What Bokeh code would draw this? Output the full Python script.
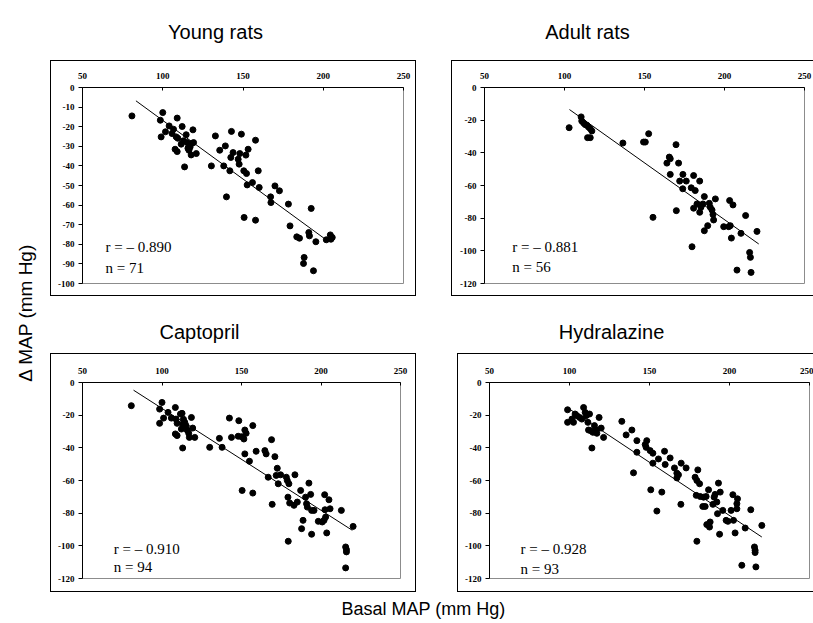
from math import pi
from bokeh.plotting import figure
from bokeh.layouts import row, column
from bokeh.models import Range1d, Label, Spacer
from bokeh.embed import file_html
from bokeh.resources import INLINE

# ---------------- data ----------------
panel_titles = ["Young rats", "Adult rats", "Captopril", "Hydralazine"]
x_axis_title = "Basal MAP (mm Hg)"
y_axis_title = "\u0394 MAP (mm Hg)"

x_ticks = [50, 100, 150, 200, 250]
y_ticks_young = [0, -10, -20, -30, -40, -50, -60, -70, -80, -90, -100]
y_ticks_other = [0, -20, -40, -60, -80, -100, -120]

young_x = [80.8, 100, 98.5, 99, 101.7, 104, 106.7, 109, 105.8, 108.4, 109.4, 112.1, 107.7, 109,
           111.5, 112.9, 114.6, 115.2, 115.7, 116.3, 118.8, 118, 119.2, 117.7, 120.9, 113.6,
           130.3, 132.8, 135.5, 139, 138, 141.8, 139.7, 142.8, 143.8, 142.4, 147, 148, 147.6,
           149, 150.5, 151.8, 152.2, 153.2, 152.6, 150.7, 155.9, 157.8, 159.5, 157.8, 160.1,
           167.2, 167.4, 169.9, 172.7, 178.3, 179.3, 183.5, 185.2, 188.1, 187.7, 191, 191.4,
           192.5, 193.9, 195.4, 201.9, 204.4, 204.8, 205.6, 117]
young_y = [-14.5, -12.8, -16.7, -25.2, -22.6, -19.6, -21.3, -15.6, -23.5, -25.2, -25.9, -19.9,
           -31.5, -32.7, -28.9, -27.2, -24.1, -28.1, -31, -32, -21.6, -28.6, -28.1, -34.4, -33.7,
           -40.5, -40, -24.7, -32, -29.8, -40, -42.5, -55.8, -22.4, -33.2, -35.7, -36.6, -33.7,
           -39.1, -23.8, -42.5, -34.5, -43.9, -31.5, -49.7, -66.3, -48.5, -26.9, -42.5, -67.7,
           -51, -55.8, -58.7, -50.2, -52.7, -59.5, -70.6, -76.2, -76.9, -86.7, -89.8, -74, -75.7,
           -61.7, -93.5, -78.7, -77.7, -75.2, -77.4, -76.5, -30.5]

adult_x = [102.9, 110.4, 110.8, 111.9, 112.9, 114, 115, 116.1, 117.1, 114.4, 116.1, 136.5, 149.4,
           150.5, 152.6, 155.3, 169.7, 171.3, 164, 165.5, 166.1, 166.1, 172, 174, 176.1, 173.9,
           169.9, 180.7, 184.5, 179.2, 181.7, 180.7, 182.8, 184.5, 185.3, 187.4, 186.5, 187.4,
           189.5, 190.5, 191.1, 192.2, 192.8, 193.2, 194.3, 179.7, 199.5, 202.6, 203.6, 203.2,
           205.3, 204.3, 207.8, 210.3, 213.2, 215.7, 216.2, 216.6, 220.3]
adult_y = [-24.6, -18, -20.5, -21.7, -22.7, -23.1, -24.2, -25.2, -26.6, -30.7, -30.7, -34, -33.4,
           -33.4, -28.3, -79.5, -35, -46.3, -46.3, -42.6, -43.6, -53.2, -57.3, -53.2, -57.3, -62,
           -75.4, -53.9, -57.3, -61.4, -63.1, -73.9, -71.3, -76.4, -73.3, -66.8, -71.3, -87.7,
           -84.6, -70.9, -73.3, -75, -77.8, -81.1, -68.2, -97.5, -85.2, -85.2, -84.6, -69.2,
           -71.9, -92.2, -111.8, -89.3, -78.4, -101, -104, -113.2, -88.1]

capto_x = [80.7, 100, 98.5, 98.5, 101, 103.8, 105.9, 108.4, 108.8, 109.5, 111.6, 112.6, 108.4,
           109.5, 112.2, 113, 114.3, 115.1, 115.8, 116.8, 117.2, 118.5, 119.3, 120.6, 113, 130,
           136.1, 137.8, 142.4, 143.7, 148.3, 147.9, 150, 151.5, 152.1, 152.9, 152.1, 150.4, 155,
           157.1, 157.1, 159.2, 164.7, 165.5, 166.8, 168.9, 171, 169.3, 172.5, 171.8, 173.1,
           174.6, 178.2, 178.8, 179.8, 179.2, 180.3, 179.4, 183.6, 183, 185.1, 187.2, 188.7,
           187.8, 190.3, 190.9, 191.4, 192.4, 193.5, 194.1, 195.6, 194.1, 198.3, 200.8, 201.9,
           202.3, 202.5, 202.9, 205, 205.7, 203.6, 212.8, 215.5, 216, 216, 215.5, 220.2, 113.5]
capto_y = [-14.2, -12.2, -16.3, -25, -21.8, -18.3, -21.8, -15.3, -22.4, -25, -19.3, -18.9, -31.5,
           -32.5, -28.5, -25.4, -24.4, -26.4, -29.1, -31.1, -33.6, -21.4, -27.9, -33.6, -40.1,
           -39.7, -34.2, -39.7, -21.8, -33.6, -23.4, -32.9, -33.2, -34.6, -29.1, -31.1, -43.7,
           -66.1, -48.2, -26.4, -67.7, -42.1, -41.7, -43.7, -58, -35, -45.4, -74.6, -52.5, -56.9,
           -62, -56.5, -58, -60, -62, -70.2, -73.8, -97.2, -56.5, -75.2, -73.2, -66.1, -84.4,
           -89.5, -70.2, -74.2, -76.3, -61.6, -68.5, -78.3, -78.3, -92.9, -85, -85.4, -84.4,
           -68.7, -77.9, -82.4, -71.8, -77.3, -92.1, -78.3, -100.7, -102.3, -103.7, -113.5,
           -88.1, -22.5]

hydra_x = [98.8, 98.8, 101.5, 102.5, 103.5, 104.6, 106.3, 107.7, 108.8, 109.8, 110.4, 111.5, 112.5,
           111.9, 113.3, 114.6, 115.6, 116.7, 117.1, 118.5, 119.8, 121.3, 114, 132.7, 135.4, 139,
           142.1, 142.1, 140, 147.3, 148.3, 147.9, 150.4, 152.1, 152.1, 150.8, 155.6, 157.7,
           159.4, 159.8, 162.9, 165.6, 167.1, 167.1, 168.1, 169.6, 169.8, 172.9, 154.6, 178.5,
           179.6, 180.2, 181.3, 179.6, 179.2, 181.7, 183.8, 185.4, 183.3, 184.8, 186.9, 185.8,
           187.5, 187.9, 189.6, 190.4, 191, 192.1, 192.5, 193.1, 193.8, 194.2, 195.8, 197.9, 199,
           201, 202.1, 202.5, 203.5, 204.6, 205, 204.6, 207.7, 209.8, 213.3, 215.6, 216, 216,
           216.5, 220.2]
hydra_y = [-16.7, -24.4, -22.4, -24.4, -19.3, -20.3, -21.4, -22.4, -15.3, -18.3, -20.3, -24.4,
           -19.3, -29.1, -29.5, -30.5, -26.4, -29.1, -31.1, -21.4, -27.9, -33.6, -40.1, -23.8,
           -32.1, -29.1, -35.6, -42.7, -55.3, -38, -35.6, -39.7, -41.7, -43.3, -49.4, -65.7,
           -46.8, -67.1, -42.1, -50.2, -46.2, -52.3, -55.5, -58.4, -56.5, -74.6, -49.4, -52.3,
           -78.7, -58, -60, -53.5, -62, -97.2, -69.1, -69.8, -70.2, -69.8, -75.9, -75.9, -65.7,
           -87, -88.5, -85.4, -74.6, -70.2, -68.5, -73.2, -80.3, -61.6, -92.9, -67.1, -78.3,
           -84.4, -85, -78.3, -68.7, -84.4, -92.1, -74.2, -71.2, -77.3, -111.9, -89.1, -77.9,
           -100.7, -102.7, -104.1, -112.9, -87.5]

# regression lines (end points)
young_fit_x = [83.3, 201.3]
young_fit_y = [-6.8, -77.4]
adult_fit_x = [103.1, 221.4]
adult_fit_y = [-13.5, -95.8]
capto_fit_x = [82.1, 219.7]
capto_fit_y = [-4.7, -90.5]
hydra_fit_x = [100.0, 220.2]
hydra_fit_y = [-16.3, -94.6]

r_texts = ["r = \u2013 0.890", "r = \u2013 0.881", "r = \u2013 0.910", "r = \u2013 0.928"]
n_texts = ["n = 71", "n = 56", "n = 94", "n = 93"]

# ---------------- helpers ----------------
SANS = "Liberation Sans"
SERIF = "Liberation Serif"


def strip(w, h):
    p = figure(width=w, height=h, x_range=Range1d(0, w), y_range=Range1d(0, h),
               x_axis_type=None, y_axis_type=None, output_backend="svg",
               toolbar_location=None, min_border=0)
    p.outline_line_color = None
    p.border_fill_color = None
    p.background_fill_color = None
    p.grid.visible = False
    return p


def panel(w, h, mb, y_ticks, xs, ys, fx, fy, rt, nt, text_pos, show_right=True):
    left, right, top, bottom = mb
    p = figure(width=w, height=h, x_range=Range1d(50, 250),
               y_range=Range1d(min(y_ticks), 0), x_axis_location="above",
               output_backend="svg", toolbar_location=None,
               min_border_left=left, min_border_right=right,
               min_border_top=top, min_border_bottom=bottom)
    p.border_fill_color = None
    p.background_fill_color = "white"
    p.outline_line_color = "#8c8c8c"
    p.outline_line_width = 1
    p.grid.visible = False
    for ax in (p.xaxis[0], p.yaxis[0]):
        ax.axis_line_color = "black"
        ax.axis_line_width = 1
        ax.major_tick_line_color = "black"
        ax.minor_tick_line_color = None
        ax.major_label_text_font = SERIF
        ax.major_label_text_font_style = "bold"
        ax.major_label_text_font_size = "9px"
        ax.major_label_text_color = "black"
    p.xaxis.ticker = x_ticks
    p.xaxis.major_label_overrides = {v: str(v) for v in x_ticks}
    p.xaxis.major_tick_in = 3
    p.xaxis.major_tick_out = 0
    p.xaxis.major_label_standoff = 9
    p.yaxis.ticker = y_ticks
    p.yaxis.major_label_overrides = {v: str(v) for v in y_ticks}
    p.yaxis.major_tick_in = 0
    p.yaxis.major_tick_out = 4
    p.yaxis.major_label_standoff = 4

    p.line(fx, fy, line_color="black", line_width=1)
    p.scatter(xs, ys, marker="circle", size=6, fill_color="black", line_color="black")

    tx, ty_r, ty_n = text_pos
    for t, ty in ((rt, ty_r), (nt, ty_n)):
        p.add_layout(Label(x=tx, y=ty, text=t, text_font=SERIF, text_font_size="15px",
                           text_color="black", text_baseline="alphabetic"))
    if show_right:
        p.styles = {"box-shadow": "inset 0 0 0 1px #000"}
    else:
        p.styles = {"box-shadow": "inset 1px 1px 0 0 #000, inset 0 -1px 0 0 #000"}
    return p


p1 = panel(366, 236, (32, 13, 27, 13), y_ticks_young, young_x, young_y,
           young_fit_x, young_fit_y, r_texts[0], n_texts[0], (64.3, -81.6, -92.3))
p2 = panel(362, 236, (33, 9, 27, 13), y_ticks_other, adult_x, adult_y,
           adult_fit_x, adult_fit_y, r_texts[1], n_texts[1], (67.3, -97.8, -110.0), False)
p3 = panel(366, 239, (32, 16, 29, 14), y_ticks_other, capto_x, capto_y,
           capto_fit_x, capto_fit_y, r_texts[2], n_texts[2], (69.7, -101.8, -113.0))
p4 = panel(356, 239, (32, 4, 29, 14), y_ticks_other, hydra_x, hydra_y,
           hydra_fit_x, hydra_fit_y, r_texts[3], n_texts[3], (69.4, -101.8, -114.0), False)

# strips with titles
left = strip(50, 623)
left.add_layout(Label(x=25, y=311, text=y_axis_title, angle=pi / 2, text_font=SANS,
                      text_font_size="19px", text_align="center", text_baseline="middle",
                      text_color="black"))

top = strip(763, 60)
top.add_layout(Label(x=165, y=29, text=panel_titles[0], text_font=SANS, text_font_size="20px",
                     text_align="center", text_baseline="alphabetic", text_color="black"))
top.add_layout(Label(x=537, y=29, text=panel_titles[1], text_font=SANS, text_font_size="20px",
                     text_align="center", text_baseline="alphabetic", text_color="black"))

mid = strip(763, 57)
mid.add_layout(Label(x=149, y=22, text=panel_titles[2], text_font=SANS, text_font_size="20px",
                     text_align="center", text_baseline="alphabetic", text_color="black"))
mid.add_layout(Label(x=561, y=22, text=panel_titles[3], text_font=SANS, text_font_size="20px",
                     text_align="center", text_baseline="alphabetic", text_color="black"))

bot = strip(763, 31)
bot.add_layout(Label(x=373, y=15, text=x_axis_title, text_font=SANS, text_font_size="18px",
                     text_align="center", text_baseline="middle", text_color="black"))

layout = row(left, column(top,
                          row(p1, Spacer(width=35, height=236), p2),
                          mid,
                          row(p3, Spacer(width=41, height=239), p4),
                          bot))

open("out.html", "w").write(file_html(layout, INLINE))
